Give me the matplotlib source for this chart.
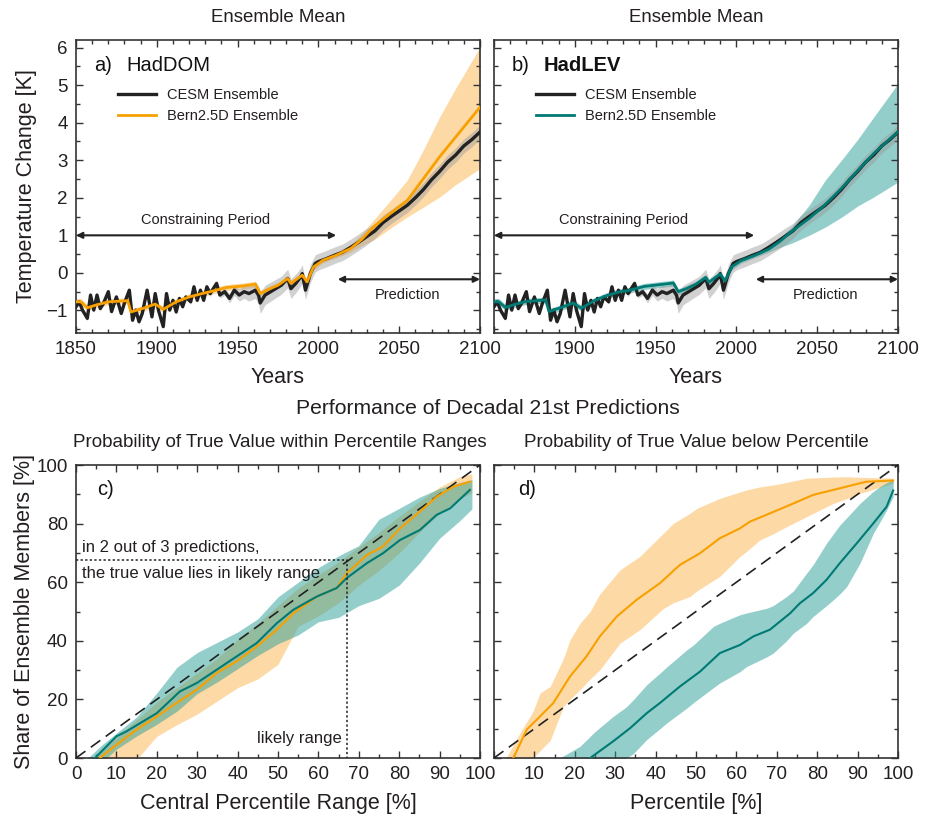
import matplotlib
matplotlib.use("Agg")
import matplotlib.pyplot as plt
from matplotlib.ticker import MultipleLocator, FixedLocator
import numpy as np

plt.rcParams['font.family'] = ['Liberation Sans', 'DejaVu Sans']

# ---------------- data: top panels ----------------
cesm_years = [1850, 1852, 1854, 1857, 1859, 1861, 1863, 1865, 1867, 1870, 1872, 1875, 1878, 1880,
              1883, 1885, 1887, 1889, 1891, 1894, 1897, 1899, 1901, 1904, 1906, 1908, 1910, 1912,
              1914, 1916, 1918, 1921, 1923, 1925, 1927, 1929, 1931, 1933, 1937, 1939, 1942, 1945,
              1948, 1951, 1954, 1957, 1961, 1963, 1964, 1967, 1972, 1977, 1981, 1983, 1986, 1989,
              1990, 1992, 1995, 1998, 2000, 2005, 2010, 2015, 2020, 2025, 2030, 2035, 2040, 2045,
              2050, 2055, 2060, 2065, 2070, 2075, 2080, 2085, 2090, 2095, 2100]
cesm_temp = [-0.90, -0.77, -0.99, -1.21, -0.59, -0.99, -0.59, -0.95, -0.81, -0.50, -1.03, -0.64, -1.08, -0.80,
             -0.46, -1.26, -0.99, -1.30, -1.08, -0.46, -1.17, -0.55, -0.99, -1.43, -0.55, -0.99, -0.73, -1.04,
             -0.68, -0.90, -0.64, -0.77, -0.37, -0.73, -0.46, -0.73, -0.37, -0.55, -0.28, -0.59, -0.50, -0.68,
             -0.46, -0.59, -0.50, -0.55, -0.46, -0.60, -0.80, -0.59, -0.46, -0.33, -0.15, -0.42, -0.28, -0.11,
             -0.02, -0.46, -0.02, 0.25, 0.30, 0.38, 0.47, 0.55, 0.68, 0.82, 0.97, 1.12, 1.34, 1.50,
             1.65, 1.80, 2.00, 2.22, 2.48, 2.70, 2.95, 3.14, 3.38, 3.55, 3.75]
cesm_spread = [0.06, 0.06, 0.06, 0.06, 0.06, 0.06, 0.06, 0.06, 0.06, 0.06, 0.06, 0.06, 0.06, 0.06,
               0.06, 0.06, 0.06, 0.06, 0.06, 0.06, 0.06, 0.06, 0.06, 0.06, 0.06, 0.06, 0.06, 0.06,
               0.06, 0.06, 0.06, 0.06, 0.06, 0.06, 0.06, 0.06, 0.06, 0.08, 0.08, 0.08, 0.10, 0.12,
               0.14, 0.16, 0.18, 0.20, 0.22, 0.25, 0.28, 0.26, 0.25, 0.24, 0.25, 0.26, 0.25, 0.24,
               0.24, 0.25, 0.24, 0.23, 0.22, 0.22, 0.22, 0.22, 0.22, 0.22, 0.22, 0.20, 0.20, 0.19,
               0.19, 0.19, 0.19, 0.19, 0.19, 0.19, 0.19, 0.19, 0.19, 0.19, 0.19]

bern_years = [1850, 1853, 1857, 1862, 1870, 1882, 1884, 1891, 1899, 1904, 1912, 1920, 1928, 1933,
              1943, 1953, 1961, 1964, 1969, 1975, 1981, 1983, 1990, 1993, 1997, 2003, 2011, 2020,
              2027, 2034, 2045, 2055, 2065, 2075, 2085, 2100]
dom_temp = [-0.77, -0.77, -0.93, -0.86, -0.77, -0.74, -1.04, -0.95, -0.83, -0.97, -0.77, -0.64, -0.55, -0.50,
            -0.39, -0.35, -0.30, -0.55, -0.44, -0.33, -0.15, -0.28, -0.06, -0.24, 0.16, 0.34, 0.47, 0.65,
            0.90, 1.22, 1.60, 1.93, 2.51, 3.09, 3.62, 4.41]
dom_lo = [-0.86, -0.86, -1.01, -0.94, -0.85, -0.82, -1.12, -1.03, -0.91, -1.05, -0.85, -0.72, -0.63, -0.58,
          -0.47, -0.43, -0.38, -0.63, -0.52, -0.41, -0.23, -0.36, -0.14, -0.32, 0.08, 0.27, 0.40, 0.55,
          0.73, 0.87, 1.20, 1.49, 1.75, 2.02, 2.35, 2.78]
dom_hi = [-0.68, -0.68, -0.85, -0.78, -0.69, -0.66, -0.96, -0.87, -0.75, -0.89, -0.69, -0.56, -0.47, -0.42,
          -0.31, -0.27, -0.22, -0.47, -0.36, -0.25, -0.07, -0.20, 0.02, -0.16, 0.24, 0.41, 0.55, 0.76,
          1.05, 1.40, 1.95, 2.47, 3.28, 4.15, 4.92, 6.01]
lev_temp = [-0.77, -0.77, -0.92, -0.85, -0.76, -0.72, -1.03, -0.93, -0.80, -0.94, -0.74, -0.60, -0.50, -0.47,
            -0.36, -0.31, -0.27, -0.50, -0.42, -0.30, -0.12, -0.25, -0.03, -0.22, 0.16, 0.33, 0.46, 0.63,
            0.84, 1.10, 1.45, 1.82, 2.25, 2.72, 3.18, 3.76]
lev_lo = [-0.86, -0.86, -1.00, -0.93, -0.84, -0.80, -1.11, -1.01, -0.88, -1.02, -0.82, -0.68, -0.58, -0.55,
          -0.44, -0.39, -0.35, -0.58, -0.50, -0.38, -0.20, -0.33, -0.11, -0.30, 0.08, 0.26, 0.40, 0.55,
          0.68, 0.79, 1.00, 1.22, 1.48, 1.78, 2.02, 2.42]
lev_hi = [-0.68, -0.68, -0.84, -0.77, -0.68, -0.64, -0.95, -0.85, -0.72, -0.86, -0.66, -0.52, -0.42, -0.39,
          -0.28, -0.23, -0.19, -0.42, -0.34, -0.22, -0.04, -0.17, 0.05, -0.14, 0.24, 0.40, 0.53, 0.75,
          0.95, 1.22, 1.80, 2.47, 3.00, 3.55, 4.15, 5.04]

# ---------------- data: panel c ----------------
c_dom_x = [5.9, 10, 15, 20, 24.9, 29.9, 34.8, 39.8, 44.7, 49.7, 53.8, 59.6, 64.5, 67, 72, 76, 80.2, 85.1, 89.3, 93.4, 97.5]
c_dom_y = [0, 4.5, 9.7, 14.2, 18.8, 23.3, 29.0, 33.0, 38.0, 43.8, 49.4, 55.1, 58.0, 63.0, 69.3, 72.2, 78.4, 84.1, 89.2, 92.6, 94.3]
c_lev_x = [4.7, 10, 12.5, 20, 25.7, 29.9, 34.8, 39.8, 44.7, 49.7, 53.8, 59.6, 64.5, 67, 72, 76, 80.2, 85.1, 89.3, 92.6, 97.5]
c_lev_y = [0, 7.4, 9.1, 15.3, 22.7, 25.6, 30.1, 34.7, 39.2, 46.0, 50.6, 55.1, 58.0, 61.4, 66.5, 69.9, 74.4, 77.8, 83.0, 85.2, 91.5]

c_band_x = [3, 6, 10, 15, 20, 25, 30, 35, 40, 45, 50, 55, 60, 65, 70, 75, 80, 85, 90, 95, 98]
c_lev_hi = [0, 4, 8.5, 14, 22.2, 31, 36, 39.5, 43, 47.5, 55, 60, 65, 69, 72.5, 81.5, 85.2, 89, 92, 94, 95]
c_lev_lo = [-5, -2, 3, 7.5, 11.5, 16, 22, 26, 30.5, 35, 39, 42, 46.5, 48, 52, 54.5, 59, 66.5, 75, 81, 85]
c_dom_hi = [-2, 2, 7, 13, 19, 24, 29, 34, 40.5, 46, 52, 58, 62.5, 67, 72, 77, 82.5, 87.5, 92.5, 96, 97]
c_dom_lo = [-9, -6, -3, -0.5, 7.4, 11.4, 15, 19.5, 24, 27, 32, 45, 48.5, 53, 59, 64, 70, 77, 83.5, 88.5, 90.5]

# ---------------- data: panel d ----------------
d_dom_x = [4.8, 8.1, 11.4, 14.7, 18.8, 22.9, 26.2, 30.4, 35.3, 41.1, 46, 51, 55.9, 60.9, 63.4, 68.3, 73.3, 79, 84, 88.9, 92.2, 98.8]
d_dom_y = [0, 9.7, 14.2, 18.8, 27.8, 34.7, 41.5, 48.3, 54.0, 59.7, 65.9, 69.9, 75.0, 78.4, 80.7, 83.5, 86.4, 89.8, 91.5, 93.2, 94.3, 94.7]
d_lev_x = [23.8, 29.5, 33.7, 37.8, 41.1, 46, 51, 55.9, 60.9, 64.2, 68.3, 73.3, 75.7, 79, 82.3, 85.6, 89.8, 93.9, 97.2, 98.8]
d_lev_y = [0, 5.7, 10.2, 15.3, 18.8, 24.4, 29.5, 35.8, 38.6, 41.5, 43.8, 49.4, 52.8, 56.3, 60.8, 66.5, 73.3, 80.1, 85.8, 91.3]

d_dom_band_x = [3, 6.4, 9.7, 11.4, 13.9, 17.2, 18.8, 21.3, 23.8, 26.2, 31.2, 36.1, 41.9, 44.4, 48.5, 50.2, 55.9, 60.9, 62.5, 65.8, 69.1, 70.8, 77.4, 84, 87.3, 90.6, 98.8]
d_dom_hi = [0, 8.5, 16, 22.2, 24.4, 34, 40.3, 46, 50, 56, 64.2, 68.8, 76.7, 80.1, 83.5, 85.2, 88.6, 90.8, 91.5, 92.5, 93.2, 93.6, 95.5, 95.9, 96.0, 95.8, 95.5]
d_dom_lo = [-10, -6, 0, 2.5, 6, 17.6, 20, 23.3, 27, 30.1, 39.2, 43.8, 51, 53, 55.1, 57, 62, 68.8, 70.5, 74.4, 76.5, 77.8, 82.4, 86.9, 88.5, 90.3, 93.8]
d_lev_band_x = [16.3, 21.3, 25, 29.5, 32.8, 34.5, 37.8, 41.1, 42.7, 47.7, 49.3, 54.3, 55.9, 60.9, 62.5, 67.5, 69.1, 72.4, 74.1, 77.4, 79, 82.3, 84, 85.6, 87.3, 90.6, 93.9, 95.5, 97.2, 98.8]
d_lev_hi = [0, 4, 9, 14.2, 17.5, 19.9, 25, 29, 31, 36.9, 38.5, 44.9, 46, 48.9, 49.5, 51.1, 52, 55.1, 57, 63.1, 66, 73.3, 76.5, 79.5, 82, 86.9, 91, 92.6, 94, 94.9]
d_lev_lo = [-14, -10, -7, -3, 0, 1.5, 6.3, 10, 11.9, 17, 18.8, 24, 25.6, 29.5, 31.2, 34.5, 35.8, 40, 42.6, 46, 48.3, 52, 54, 56, 58.5, 66.5, 76.7, 80.5, 84.7, 89.2]

top_xticks = [1850, 1900, 1950, 2000, 2050, 2100]
pct_xticks = [0, 10, 20, 30, 40, 50, 60, 70, 80, 90, 100]

# ---------------- styles ----------------
BLACK = '#222222'
ORANGE = '#F7A000'
TEAL = '#007A74'
ORANGE_FILL = '#FDB54E'
TEAL_FILL = '#2A9E98'
GREY_FILL = '#9A9A9A'
TXT = '#231F20'

W, H = 925, 822
fig = plt.figure(figsize=(W / 100, H / 100), dpi=100)


def add_ax(x0, y0, x1, y1):
    return fig.add_axes([x0 / W, 1 - y1 / H, (x1 - x0) / W, (y1 - y0) / H])


ax_a = add_ax(76, 40, 480, 333)
ax_b = add_ax(494, 40, 898, 333)
ax_c = add_ax(76, 465, 480, 758)
ax_d = add_ax(494, 465, 898, 758)


def style(ax, xticks, xmin, ymaj, ymin, hide_first_x=False):
    ax.xaxis.set_major_locator(FixedLocator(xticks))
    ax.xaxis.set_minor_locator(MultipleLocator(xmin))
    ax.yaxis.set_major_locator(MultipleLocator(ymaj))
    ax.yaxis.set_minor_locator(MultipleLocator(ymin))
    ax.set_xticklabels(['' if (hide_first_x and i == 0) else str(v) for i, v in enumerate(xticks)])
    ax.tick_params(which='both', direction='in', top=True, right=True, colors='#333333',
                   labelcolor=TXT, labelsize=13.5, width=1.0, pad=6)
    ax.tick_params(which='major', length=5)
    ax.tick_params(which='minor', length=3)
    for s in ax.spines.values():
        s.set_color('#333333')
        s.set_linewidth(1.2)


# ---- top panels ----
for ax, name, yb, ylo, yhi, col, fcol, lab, nm_w, hide in [
        (ax_a, 'HadDOM', dom_temp, dom_lo, dom_hi, ORANGE, ORANGE_FILL, 'a)', 'normal', False),
        (ax_b, 'HadLEV', lev_temp, lev_lo, lev_hi, TEAL, TEAL_FILL, 'b)', 'bold', True)]:
    ax.fill_between(bern_years, ylo, yhi, color=fcol, alpha=0.5, lw=0, zorder=1)
    c_lo = [t - s for t, s in zip(cesm_temp, cesm_spread)]
    c_hi = [t + s for t, s in zip(cesm_temp, cesm_spread)]
    ax.fill_between(cesm_years, c_lo, c_hi, color=GREY_FILL, alpha=0.45, lw=0, zorder=2)
    ax.plot(cesm_years, cesm_temp, color=BLACK, lw=2.4, zorder=3, label='CESM Ensemble',
            solid_joinstyle='round')
    ax.plot(bern_years, yb, color=col, lw=2.0, zorder=4, label='Bern2.5D Ensemble')
    ax.set_xlim(1850, 2100)
    ax.set_ylim(-1.6, 6.2)
    style(ax, top_xticks, 10, 1, 0.5, hide_first_x=hide)
    ax.set_xlabel('Years', fontsize=15.5, color=TXT, labelpad=6)
    ax.annotate('', xy=(1850, 1), xytext=(2011, 1),
                arrowprops=dict(arrowstyle='<|-|>', color=BLACK, lw=1.5, mutation_scale=9,
                                shrinkA=0, shrinkB=0), zorder=5)
    ax.text(1930, 1.22, 'Constraining Period', fontsize=10.5, ha='center', va='bottom', color=TXT)
    ax.annotate('', xy=(2012, -0.17), xytext=(2100, -0.17),
                arrowprops=dict(arrowstyle='<|-|>', color=BLACK, lw=1.5, mutation_scale=9,
                                shrinkA=0, shrinkB=0), zorder=5)
    ax.text(2055, -0.58, 'Prediction', fontsize=10.5, ha='center', va='center', color=TXT)
    ax.text(18 / 404, 0.914, lab, transform=ax.transAxes, fontsize=14.5,
            ha='left', va='center', color='#111111')
    ax.text(50 / 404, 0.914, name, transform=ax.transAxes, fontsize=14.5, fontweight=nm_w,
            ha='left', va='center', color='#111111')
    ax.legend(loc='upper left', bbox_to_anchor=(0.104, 0.835), frameon=False, fontsize=10.5,
              handlelength=2.6, handletextpad=0.75, borderpad=0, borderaxespad=0,
              labelspacing=0.45, labelcolor=TXT)

ax_a.set_ylabel('Temperature Change [K]', fontsize=15.5, color=TXT, labelpad=7)
ax_b.set_yticklabels([])

# ---- panel c ----
ax_c.fill_between(c_band_x, c_dom_lo, c_dom_hi, color=ORANGE_FILL, alpha=0.5, lw=0, zorder=1)
ax_c.fill_between(c_band_x, c_lev_lo, c_lev_hi, color=TEAL_FILL, alpha=0.5, lw=0, zorder=2)
ax_c.plot([0, 100], [0, 100], color=BLACK, lw=1.2, dashes=(7, 4), zorder=3)
ax_c.plot(c_dom_x, c_dom_y, color=ORANGE, lw=1.5, zorder=4)
ax_c.plot(c_lev_x, c_lev_y, color=TEAL, lw=1.5, zorder=5)
ax_c.plot([0, 67, 67], [67.5, 67.5, 0], color=BLACK, lw=1.1, ls=(0, (1.5, 1.5)), zorder=6)
ax_c.text(1.6, 72, 'in 2 out of 3 predictions,', fontsize=12, ha='left', va='center', color=TXT)
ax_c.text(1.6, 63, 'the true value lies in likely range', fontsize=12, ha='left', va='center', color=TXT)
ax_c.text(65.8, 6.8, 'likely range', fontsize=12, ha='right', va='center', color=TXT)
ax_c.text(5.2, 91.5, 'c)', fontsize=14.5, ha='left', va='center', color='#111111')
ax_c.set_xlim(0, 100)
ax_c.set_ylim(0, 100)
style(ax_c, pct_xticks, 5, 20, 10)
ax_c.set_xlabel('Central Percentile Range [%]', fontsize=15.5, color=TXT, labelpad=7)
ax_c.set_ylabel('Share of Ensemble Members [%]', fontsize=15.5, color=TXT, labelpad=1)

# ---- panel d ----
ax_d.fill_between(d_dom_band_x, d_dom_lo, d_dom_hi, color=ORANGE_FILL, alpha=0.5, lw=0, zorder=1)
ax_d.fill_between(d_lev_band_x, d_lev_lo, d_lev_hi, color=TEAL_FILL, alpha=0.5, lw=0, zorder=2)
ax_d.plot([0, 100], [0, 100], color=BLACK, lw=1.2, dashes=(7, 4), zorder=3)
ax_d.plot(d_dom_x, d_dom_y, color=ORANGE, lw=1.5, zorder=4)
ax_d.plot(d_lev_x, d_lev_y, color=TEAL, lw=1.5, zorder=5)
ax_d.text(5.9, 91.5, 'd)', fontsize=14.5, ha='left', va='center', color='#111111')
ax_d.set_xlim(0, 100)
ax_d.set_ylim(0, 100)
style(ax_d, pct_xticks, 5, 20, 10, hide_first_x=True)
ax_d.set_yticklabels([])
ax_d.set_xlabel('Percentile [%]', fontsize=15.5, color=TXT, labelpad=7)

# ---- titles ----
fig.text(278 / W, 1 - 18 / H, 'Ensemble Mean', fontsize=13.4, ha='center', va='center', color=TXT)
fig.text(696 / W, 1 - 18 / H, 'Ensemble Mean', fontsize=13.4, ha='center', va='center', color=TXT)
fig.text(488 / W, 1 - 408 / H, 'Performance of Decadal 21st Predictions', fontsize=15.2,
         ha='center', va='center', color=TXT)
fig.text(280 / W, 1 - 442 / H, 'Probability of True Value within Percentile Ranges', fontsize=13.5,
         ha='center', va='center', color=TXT)
fig.text(696 / W, 1 - 442 / H, 'Probability of True Value below Percentile', fontsize=13.5,
         ha='center', va='center', color=TXT)

fig.savefig('out.png', dpi=100)
